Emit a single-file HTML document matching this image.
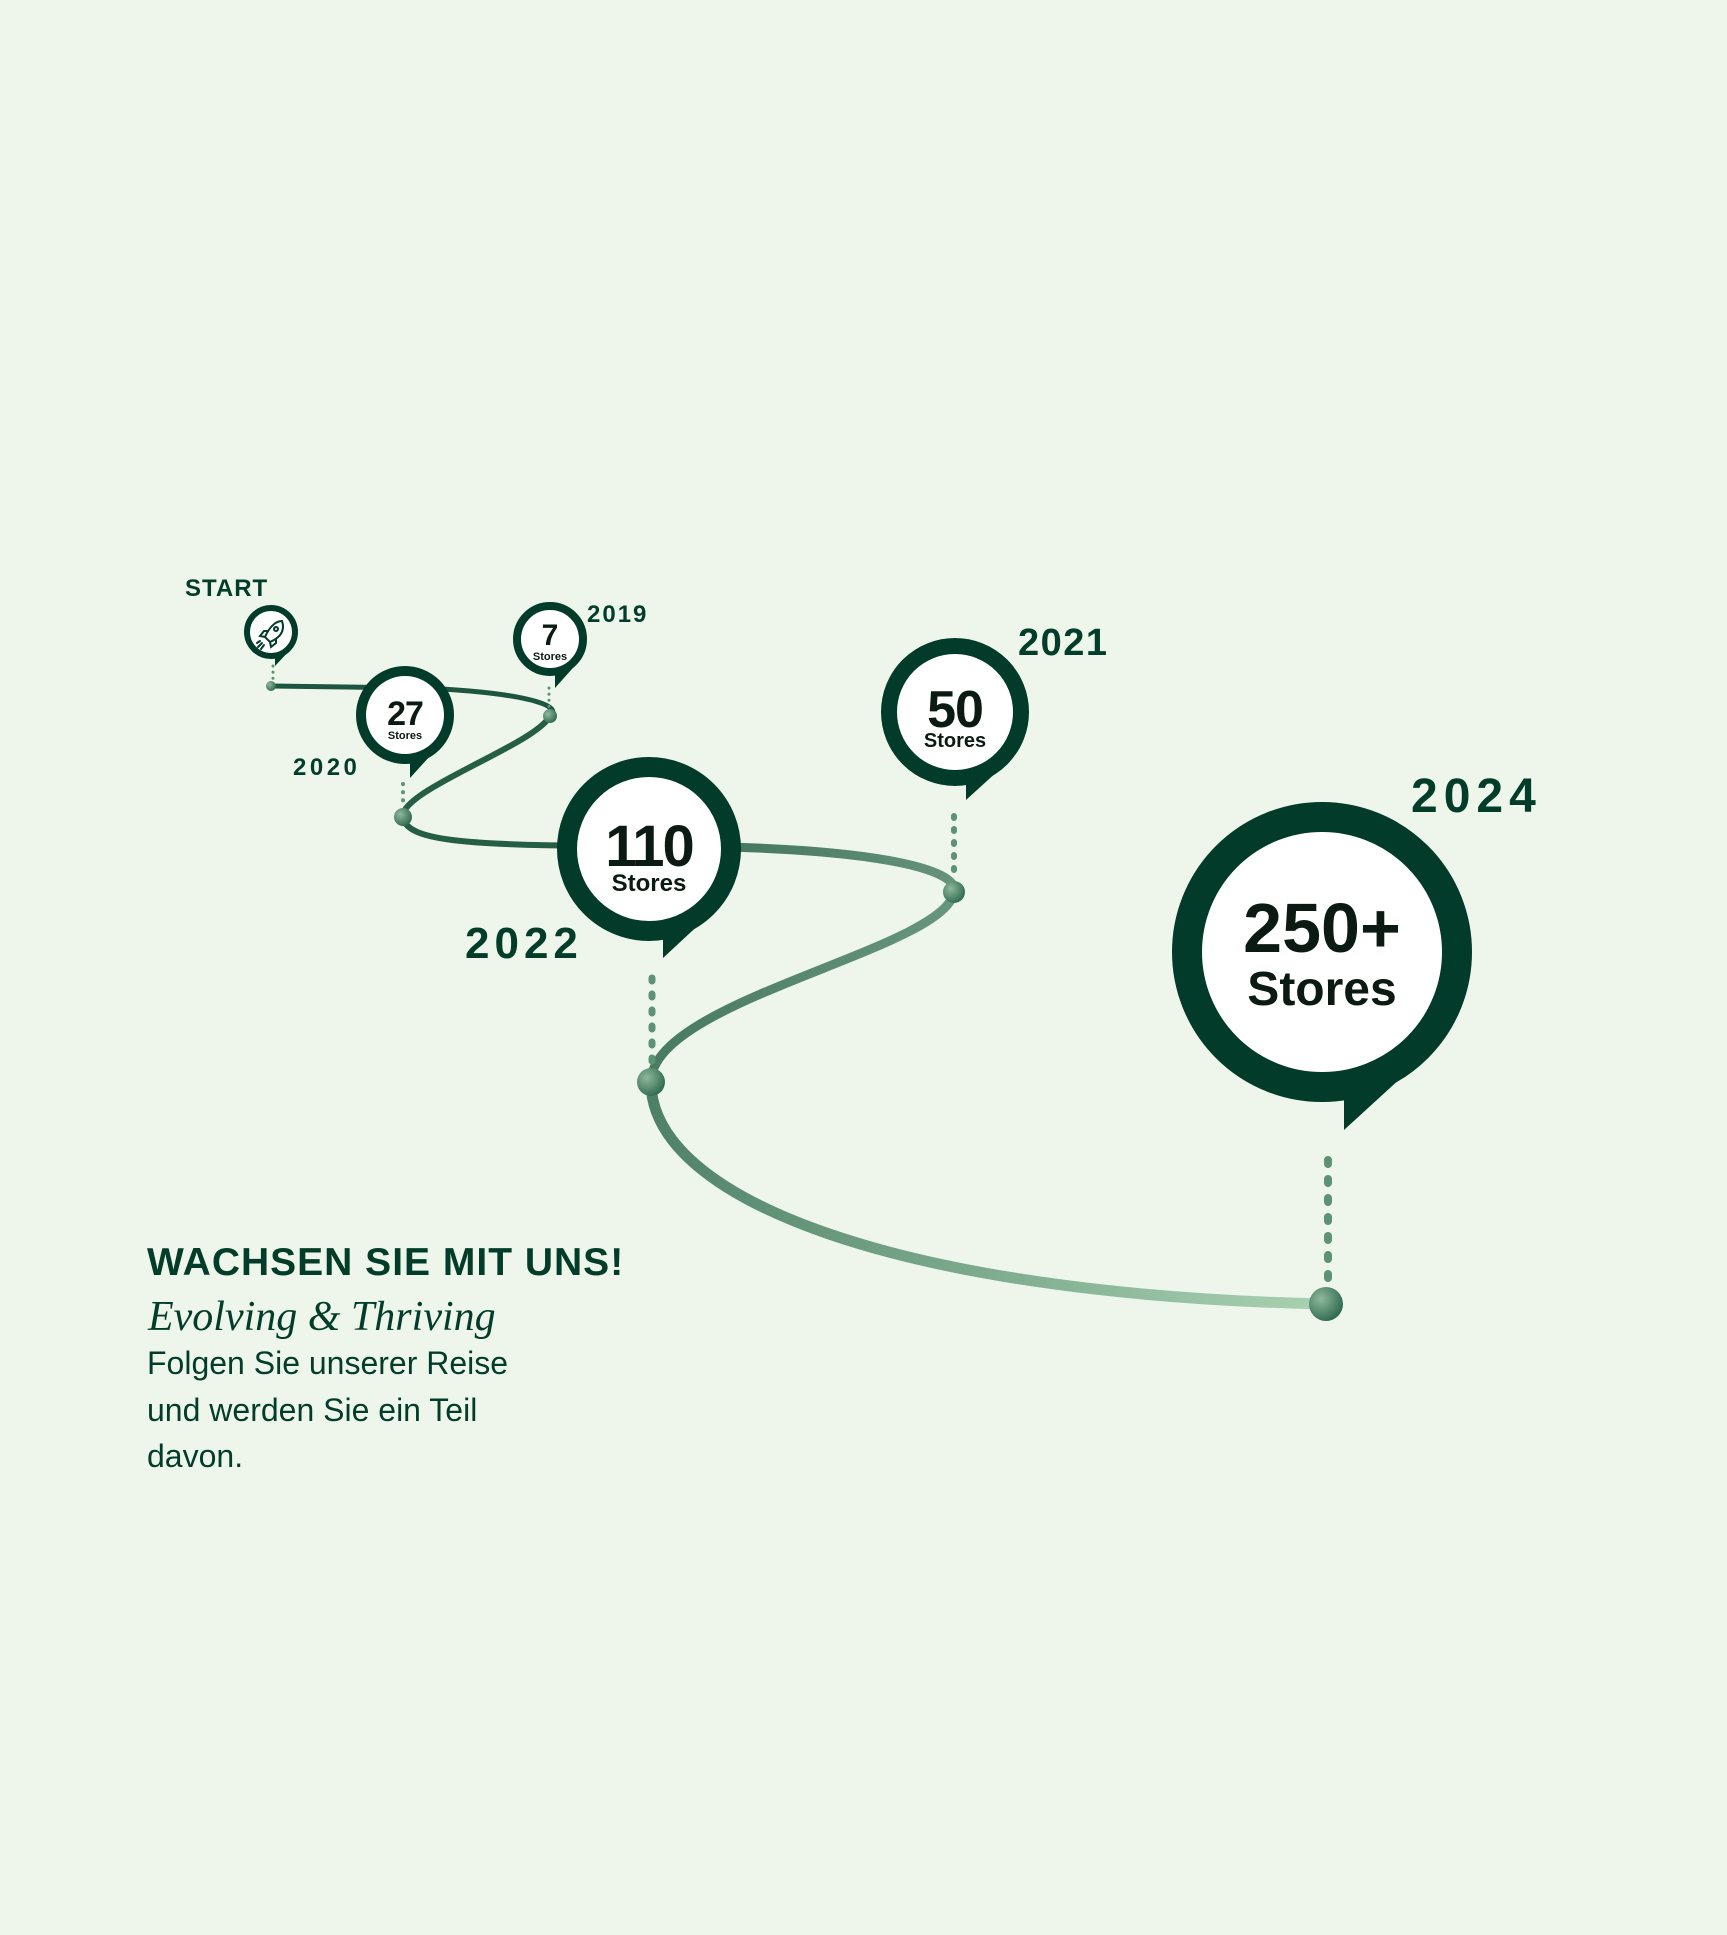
<!DOCTYPE html>
<html><head><meta charset="utf-8"><style>
html,body{margin:0;padding:0;background:#eef6ec;}
svg{display:block}
text{font-family:"Liberation Sans",sans-serif;}
</style></head><body>
<svg width="1727" height="1935" viewBox="0 0 1727 1935" xmlns="http://www.w3.org/2000/svg">
<defs>
<linearGradient id="g1" gradientUnits="userSpaceOnUse" x1="650" y1="846" x2="960" y2="1000"><stop offset="0" stop-color="#3a6e55"/><stop offset="1" stop-color="#6f9c82"/></linearGradient>
<linearGradient id="g2" gradientUnits="userSpaceOnUse" x1="650" y1="1080" x2="1326" y2="1304"><stop offset="0" stop-color="#4d7f65"/><stop offset="1" stop-color="#a9d2b2"/></linearGradient>
<radialGradient id="dot" cx="0.35" cy="0.35" r="0.7"><stop offset="0" stop-color="#8fb89d"/><stop offset="1" stop-color="#2f6a4e"/></radialGradient>
</defs>
<rect width="1727" height="1935" fill="#eef6ec"/>

<path d="M271,686 L420,688 C520,692 565,705 550,716" fill="none" stroke="#1d5540" stroke-width="5"/>
<path d="M550,716 C535,745 400,790 403,817 C406,842 470,846 649,846" fill="none" stroke="#255d45" stroke-width="6"/>
<path d="M649,846 C880,846 960,870 954,892 C945,950 651,1000 651,1082" fill="none" stroke="url(#g1)" stroke-width="9"/>
<path d="M651,1082 C651,1200 900,1295 1326,1304" fill="none" stroke="url(#g2)" stroke-width="11"/>

<g stroke="#5e9275" stroke-linecap="round" fill="none">
<line x1="273" y1="666" x2="273" y2="680" stroke-width="3" stroke-dasharray="0.1 6"/>
<line x1="549" y1="688" x2="549" y2="708" stroke-width="3" stroke-dasharray="0.1 6"/>
<line x1="403" y1="784" x2="403" y2="808" stroke-width="4" stroke-dasharray="0.1 8"/>
<line x1="954" y1="816" x2="954" y2="880" stroke-width="6" stroke-dasharray="2 11"/>
<line x1="652" y1="978" x2="652" y2="1068" stroke-width="7" stroke-dasharray="3 13"/>
<line x1="1328" y1="1160" x2="1328" y2="1286" stroke-width="8" stroke-dasharray="4 15"/>
</g>
<circle cx="271" cy="686" r="5" fill="url(#dot)"/>
<circle cx="550" cy="716" r="7" fill="url(#dot)"/>
<circle cx="403" cy="817" r="9" fill="url(#dot)"/>
<circle cx="954" cy="892" r="11" fill="url(#dot)"/>
<circle cx="651" cy="1082" r="14" fill="url(#dot)"/>
<circle cx="1326" cy="1304" r="17" fill="url(#dot)"/>

<g fill="#023b29">
<polygon points="275,654 275,666 290,650"/>
<circle cx="271" cy="632" r="24" fill="#fff" stroke="#023b29" stroke-width="6"/>
<polygon points="555,672 555,688 580,660"/>
<circle cx="550" cy="639" r="33" fill="#fff" stroke="#023b29" stroke-width="8"/>
<polygon points="410,760 410,778 440,745"/>
<circle cx="405" cy="715" r="44" fill="#fff" stroke="#023b29" stroke-width="10"/>
<polygon points="966,780 966,800 1010,760"/>
<circle cx="955" cy="712" r="66" fill="#fff" stroke="#023b29" stroke-width="16"/>
<polygon points="663,930 663,958 720,905"/>
<circle cx="649" cy="849" r="82" fill="#fff" stroke="#023b29" stroke-width="20"/>
<polygon points="1344,1090 1344,1130 1415,1065"/>
<circle cx="1322" cy="952" r="135" fill="#fff" stroke="#023b29" stroke-width="30"/>
</g>

<g stroke="#023b29" stroke-width="2" fill="none" stroke-linecap="round">
<path d="M282,621 C274,621 268,630 265,637 L270,642 C277,639 286,633 282,621 Z"/>
<circle cx="276" cy="629" r="2"/>
<path d="M265,637 L260,636 L264,631 L268,631"/>
<path d="M270,642 L271,647 L276,643 L276,639"/>
<path d="M262,643 L258,647 M264,645 L261,649 M260,641 L257,643"/>
</g>

<g font-weight="bold" fill="#0b1a12" text-anchor="middle">
<text x="550" y="645" font-size="30">7</text>
<text x="550" y="660" font-size="11">Stores</text>
<text x="405" y="725" font-size="34" letter-spacing="-1">27</text>
<text x="405" y="739" font-size="11">Stores</text>
<text x="955" y="727" font-size="52" letter-spacing="-1">50</text>
<text x="955" y="747" font-size="20">Stores</text>
<text x="649" y="866" font-size="58" letter-spacing="-2">110</text>
<text x="649" y="891" font-size="24">Stores</text>
<text x="1322" y="952" font-size="70">250+</text>
<text x="1322" y="1005" font-size="48">Stores</text>
</g>

<g font-weight="bold" fill="#033d2a">
<text x="185" y="596" font-size="24" letter-spacing="1">START</text>
<text x="587" y="622" font-size="24" letter-spacing="2">2019</text>
<text x="293" y="775" font-size="24" letter-spacing="3.5">2020</text>
<text x="1018" y="655" font-size="38" letter-spacing="1.5">2021</text>
<text x="465" y="958" font-size="44" letter-spacing="5">2022</text>
<text x="1411" y="812" font-size="48" letter-spacing="6">2024</text>
</g>

<text x="147" y="1275" font-size="39" font-weight="bold" fill="#033d2a" letter-spacing="1">WACHSEN SIE MIT UNS!</text>
<text x="148" y="1330" font-size="42" font-style="italic" fill="#033d2a" style="font-family:'Liberation Serif',serif" letter-spacing="0">Evolving &amp; Thriving</text>
<g font-size="32" fill="#033d2a">
<text x="147" y="1374">Folgen Sie unserer Reise</text>
<text x="147" y="1421">und werden Sie ein Teil</text>
<text x="147" y="1467">davon.</text>
</g>
</svg>
</body></html>
